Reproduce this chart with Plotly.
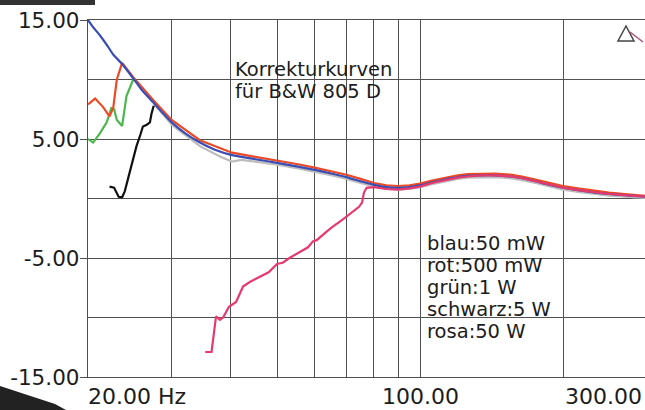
import math
import plotly.graph_objects as go

# ---------------- data ----------------
blue_f = [20, 20.5, 21.2, 22, 22.6, 23.6, 24.9, 26, 27.4, 28.7, 30, 32, 34.4, 37, 40.2, 45, 50, 55, 60, 65,
          70, 75, 80, 85, 90, 95, 100, 106, 113, 120, 126, 135, 144, 155, 164, 175, 183, 192, 200, 215,
          234, 250, 270, 298]
blue_db = [15.0, 14.4, 13.7, 12.8, 12.1, 11.3, 10.1, 9.1, 8.1, 7.2, 6.4, 5.5, 4.7, 4.1, 3.65, 3.3, 3.0, 2.7, 2.4, 2.1,
           1.8, 1.45, 1.15, 0.95, 0.9, 0.95, 1.1, 1.35, 1.6, 1.8, 1.9, 1.95, 1.95, 1.85, 1.7, 1.45, 1.25, 1.05, 0.9, 0.7,
           0.5, 0.38, 0.28, 0.15]

red_f = [20, 20.7, 21.5, 22.2, 22.6, 23.0, 23.6, 24.9, 27.4, 30, 34.4, 40.2, 45, 50, 55, 60, 65, 70, 75, 80,
         85, 90, 95, 100, 106, 113, 120, 126, 135, 144, 155, 164, 175, 183, 192, 200, 215, 234, 250, 270, 298]
red_db = [7.9, 8.4, 7.7, 6.9, 7.6, 10.0, 11.4, 10.2, 8.3, 6.6, 4.9, 3.85, 3.5, 3.2, 2.9, 2.6, 2.3, 2.0, 1.65, 1.3,
          1.1, 1.05, 1.1, 1.25, 1.5, 1.75, 1.95, 2.05, 2.1, 2.1, 2.0, 1.85, 1.6, 1.4, 1.2, 1.05, 0.85, 0.62, 0.5, 0.38, 0.22]

green_f = [20, 20.5, 21.2, 21.9, 22.4, 22.7, 23.0, 23.6, 24.1, 24.9]
green_db = [5.0, 4.7, 5.5, 6.4, 7.6, 7.5, 6.6, 6.1, 8.6, 10.0]

black_f = [22.2, 22.7, 23.2, 23.6, 23.9, 24.5, 25.3, 25.8, 26.1, 26.6, 27.0, 27.2, 27.5]
black_db = [1.0, 0.9, 0.15, 0.1, 0.6, 2.3, 4.4, 5.4, 6.05, 6.2, 6.4, 7.1, 7.8]

gray_f = [27.5, 30, 34.4, 38, 40.2, 42, 45, 50, 55, 60, 65, 70, 75, 80, 85, 90, 95, 100, 106, 113, 120, 126,
          135, 144, 155, 164, 175, 183, 192, 200, 215, 234, 250, 270, 298]
gray_db = [8.0, 6.2, 4.4, 3.5, 3.1, 3.25, 3.1, 2.85, 2.55, 2.25, 1.95, 1.65, 1.3, 1.0, 0.8, 0.75, 0.8, 0.95, 1.2,
           1.45, 1.65, 1.75, 1.8, 1.8, 1.7, 1.55, 1.3, 1.1, 0.9, 0.75, 0.55, 0.35, 0.25, 0.15, 0.05]

pink_f = [35.3, 36.4, 37.2, 37.9, 38.5, 39.6, 41.0, 42.4, 43.9, 46.0, 48.0, 50.0, 51.4, 53.1, 55.8, 58.1, 59.5,
          60.6, 63.5, 65.3, 68.6, 72.1, 74.4, 75.5, 76.2, 77.2, 80, 85, 90, 95, 100, 106, 113, 120, 126, 135, 144,
          155, 164, 175, 183, 192, 200, 215, 234, 250, 270, 298]
pink_db = [-12.9, -12.9, -9.9, -10.2, -10.0, -9.1, -8.7, -7.4, -7.0, -6.6, -6.2, -5.5, -5.4, -5.0, -4.5, -4.1, -3.6,
           -3.5, -2.8, -2.4, -1.8, -1.1, -0.7, -0.35, 0.5, 0.9, 0.95, 0.8, 0.75, 0.85, 1.0, 1.3, 1.55, 1.75, 1.85, 1.95,
           1.95, 1.85, 1.7, 1.45, 1.25, 1.05, 0.9, 0.7, 0.5, 0.38, 0.28, 0.15]

y_tickvals = [15, 5, -5, -15]
y_ticktext = ["15.00", "5.00", "-5.00", "-15.00"]
y_minor_grid = [10, 0, -10]
x_gridvals = [20, 30, 40, 50, 60, 70, 80, 90, 100, 200]
x_labels = [(20, "20.00 Hz"), (100, "100.00"), (298, "300.00")]

title_lines = ["Korrekturkurven", "für B&W 805 D"]
legend_lines = ["blau:50 mW", "rot:500 mW", "grün:1 W", "schwarz:5 W", "rosa:50 W"]

# ---------------- figure ----------------
W, H = 645, 410
ML, MT, MB, MR = 88, 20, 33, 0
PW, PH = W - ML - MR, H - MT - MB
X_MIN, X_MAX = 20, 297.6

FONT = "DejaVu Sans"
TXT = "#1c1c1c"
GRID = "#505050"


def px_x(px):
    return (px - ML) / PW


def px_y(py):
    return (H - MB - py) / PH


def poly(points):
    return "M " + " L ".join("{} {}".format(px_x(a), px_y(b)) for a, b in points) + " Z"


fig = go.Figure()

traces = [
    (gray_f, gray_db, "#bdbdbd", "linear"),
    (green_f, green_db, "#4cb84c", "linear"),
    (black_f, black_db, "#111111", "linear"),
    (red_f, red_db, "#ec4a26", "linear"),
    (blue_f, blue_db, "#3a4db5", "spline"),
    (pink_f, pink_db, "#e63a6e", "linear"),
]
for fx, fy, col, shp in traces:
    fig.add_trace(go.Scatter(x=fx, y=fy, mode="lines",
                             line=dict(color=col, width=2.2, shape=shp, smoothing=0.6),
                             showlegend=False, hoverinfo="skip"))

annotations = []
for f, t in x_labels:
    if f == 20:
        annotations.append(dict(x=0, xref="paper", xanchor="left", xshift=-2))
    elif f == 100:
        annotations.append(dict(x=math.log10(f), xref="x", xanchor="center"))
    else:
        annotations.append(dict(x=1, xref="paper", xanchor="right", xshift=-1))
    annotations[-1].update(text=t, y=px_y(396), yref="paper", yanchor="middle", showarrow=False,
                           font=dict(family=FONT, size=22, color=TXT))

for i, t in enumerate(title_lines):
    annotations.append(dict(text=t, x=px_x(233), xref="paper", xanchor="left",
                            y=px_y(70 + 22 * i), yref="paper", yanchor="middle", showarrow=False,
                            font=dict(family=FONT, size=19.5, color=TXT)))

for i, t in enumerate(legend_lines):
    annotations.append(dict(text=t, x=px_x(425), xref="paper", xanchor="left",
                            y=px_y(243 + 22 * i), yref="paper", yanchor="middle", showarrow=False,
                            font=dict(family=FONT, size=19.5, color=TXT)))

shapes = [
    # scan artefacts
    dict(type="path", xref="paper", yref="paper", path=poly([(0, 0), (95, 0), (95, 5), (0, 5)]),
         fillcolor="#333333", line=dict(width=0), layer="above"),
    dict(type="path", xref="paper", yref="paper", path=poly([(0, 386), (55, 404), (66, 410), (0, 410)]),
         fillcolor="#222222", line=dict(width=0), layer="above"),
    # cursor marker top right
    dict(type="path", xref="paper", yref="paper", path=poly([(626, 26), (618, 41), (634, 41)]),
         fillcolor="rgba(0,0,0,0)", line=dict(color="#444444", width=1.5), layer="above"),
    dict(type="line", xref="paper", yref="paper", x0=px_x(630), y0=px_y(32), x1=px_x(643), y1=px_y(42),
         line=dict(color="#b0507a", width=1.5), layer="above"),
]

fig.update_layout(
    width=W, height=H,
    margin=dict(l=ML, r=MR, t=MT, b=MB, pad=0, autoexpand=False),
    paper_bgcolor="white", plot_bgcolor="white",
    annotations=annotations, shapes=shapes,
    xaxis=dict(type="log", range=[math.log10(X_MIN), math.log10(X_MAX)], automargin=False,
               tickvals=x_gridvals, showticklabels=False, ticks="",
               showgrid=True, gridcolor=GRID, gridwidth=1.4,
               showline=True, linecolor=GRID, linewidth=1.4, mirror=True, zeroline=False),
    yaxis=dict(range=[-15, 15], tickvals=y_tickvals, ticktext=y_ticktext, automargin=False,
               ticks="outside", ticklen=7, tickcolor=GRID, tickwidth=1.4,
               ticklabelstandoff=-4,
               tickfont=dict(family=FONT, size=21.5, color=TXT),
               showgrid=True, gridcolor=GRID, gridwidth=1.4,
               minor=dict(tickvals=y_minor_grid, showgrid=True, gridcolor=GRID, gridwidth=1.4, ticks=""),
               showline=True, linecolor=GRID, linewidth=1.4, zeroline=False),
)

fig.write_html("out.html", config={"displayModeBar": False},
               post_script="document.body.style.margin='0';document.body.style.overflow='hidden';")
